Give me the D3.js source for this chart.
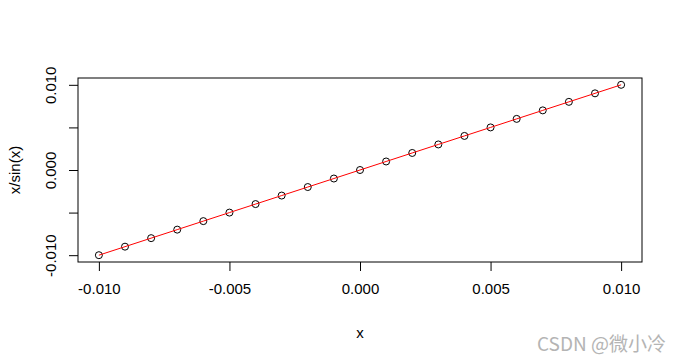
<!DOCTYPE html>
<html>
<head>
<meta charset="utf-8">
<script src="https://cdn.jsdelivr.net/npm/d3@7"></script>
<style>
  body { margin: 0; background: #fff; }
  svg { display: block; font-family: "Liberation Sans", Arial, sans-serif; }
</style>
</head>
<body>
<svg id="chart" width="682" height="360"></svg>
<script>
// values
var xValues = [-0.010, -0.009, -0.008, -0.007, -0.006, -0.005, -0.004, -0.003, -0.002, -0.001,
               0.000, 0.001, 0.002, 0.003, 0.004, 0.005, 0.006, 0.007, 0.008, 0.009, 0.010];
var yValues = [-0.010, -0.009, -0.008, -0.007, -0.006, -0.005, -0.004, -0.003, -0.002, -0.001,
               0.000, 0.001, 0.002, 0.003, 0.004, 0.005, 0.006, 0.007, 0.008, 0.009, 0.010];
var xTicks = [-0.010, -0.005, 0.000, 0.005, 0.010];
var xTickLabels = ["-0.010", "-0.005", "0.000", "0.005", "0.010"];
var yTicks = [-0.010, -0.005, 0.000, 0.005, 0.010];
var yTickLabels = ["-0.010", "", "0.000", "", "0.010"];

var svg = d3.select("#chart"),
    box = {left: 78, right: 642, top: 78, bottom: 262};

// R style 4% padding on both ends
var x = d3.scaleLinear().domain([-0.0108, 0.0108]).range([box.left, box.right]);
var y = d3.scaleLinear().domain([-0.0108, 0.0108]).range([box.bottom, box.top]);

var xAxis = d3.axisBottom(x).tickValues(xTicks).tickSize(9).tickPadding(12)
    .tickFormat(function(d, i) { return xTickLabels[i]; });
var yAxis = d3.axisLeft(y).tickValues(yTicks).tickSize(9).tickPadding(8)
    .tickFormat(function(d, i) { return yTickLabels[i]; });

var gx = svg.append("g")
    .attr("transform", "translate(0," + box.bottom + ")")
    .call(xAxis);
gx.select(".domain").remove();
gx.selectAll("line").attr("stroke", "#000");
gx.selectAll("text").attr("font-size", 15).attr("fill", "#000")
    .attr("font-family", "Liberation Sans, Arial, sans-serif");

var gy = svg.append("g")
    .attr("transform", "translate(" + box.left + ",0)")
    .call(yAxis);
gy.select(".domain").remove();
gy.selectAll("line").attr("stroke", "#000");
gy.selectAll(".tick text")
    .attr("font-size", 15).attr("fill", "#000")
    .attr("font-family", "Liberation Sans, Arial, sans-serif")
    .attr("text-anchor", "middle")
    .attr("x", null).attr("dy", null)
    .attr("transform", "translate(-28,0) rotate(-90)")
    .attr("dominant-baseline", "central");

// plot box
svg.append("rect")
    .attr("x", box.left).attr("y", box.top)
    .attr("width", box.right - box.left).attr("height", box.bottom - box.top)
    .attr("fill", "none").attr("stroke", "#000").attr("stroke-width", 1);

var pts = xValues.map(function(v, i) { return [v, yValues[i]]; });

svg.append("g").selectAll("circle")
    .data(pts)
  .enter().append("circle")
    .attr("cx", function(d) { return x(d[0]); })
    .attr("cy", function(d) { return y(d[1]); })
    .attr("r", 3.5)
    .attr("fill", "none")
    .attr("stroke", "#000")
    .attr("stroke-width", 1);

svg.append("path")
    .datum(pts)
    .attr("fill", "none")
    .attr("stroke", "#ff0000")
    .attr("stroke-width", 1)
    .attr("d", d3.line().x(function(d) { return x(d[0]); }).y(function(d) { return y(d[1]); }));

// axis titles
svg.append("text")
    .attr("x", (box.left + box.right) / 2).attr("y", 332)
    .attr("text-anchor", "middle").attr("dominant-baseline", "central")
    .attr("font-size", 15).text("x");

svg.append("text")
    .attr("transform", "translate(14," + (box.top + box.bottom) / 2 + ") rotate(-90)")
    .attr("text-anchor", "middle").attr("dominant-baseline", "central")
    .attr("font-size", 15).text("x/sin(x)");

// watermark
svg.append("text")
    .attr("x", 666).attr("y", 342)
    .attr("text-anchor", "end").attr("dominant-baseline", "central")
    .attr("font-family", "Noto Sans CJK SC, sans-serif")
    .attr("font-size", 19).attr("fill", "#b4b4b4")
    .text("CSDN @微小冷");
</script>
</body>
</html>
